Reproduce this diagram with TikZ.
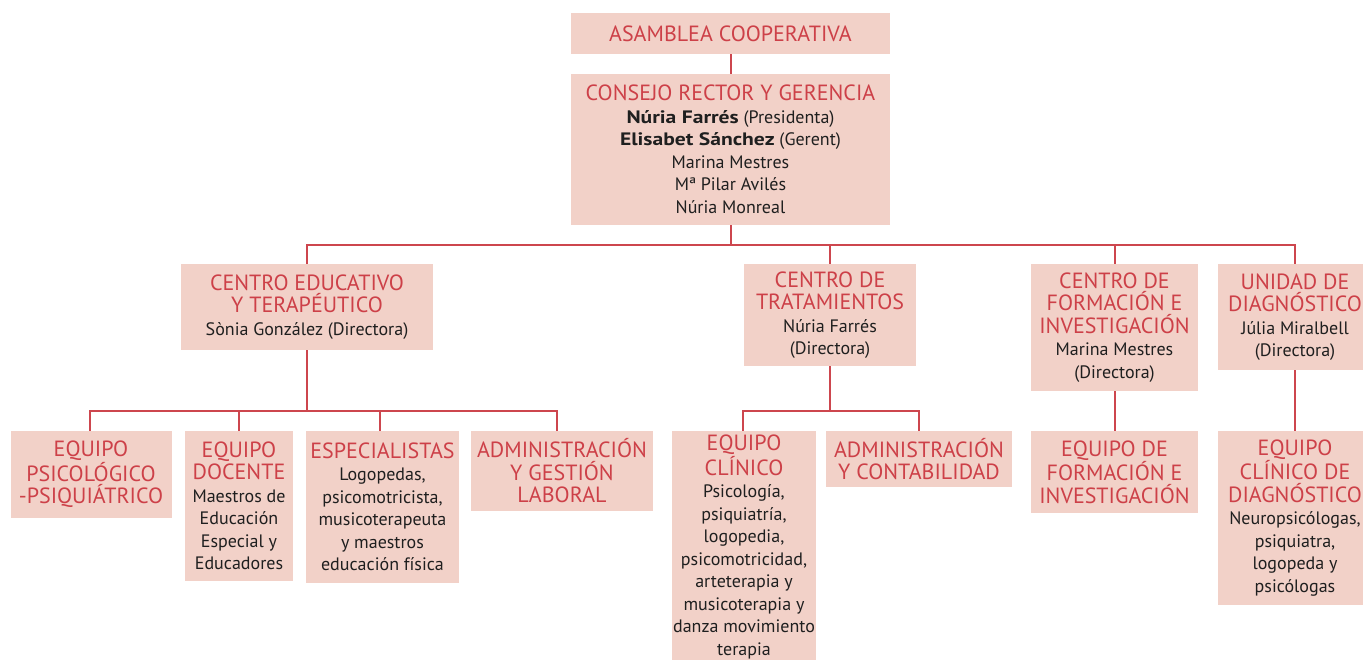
\documentclass[tikz,border=0pt]{standalone}
\usepackage{fontspec}
\setmainfont{PT Sans}[BoldFeatures={FakeStretch=1.2}]
\definecolor{boxfill}{RGB}{242,209,200}
\definecolor{linered}{RGB}{205,70,78}
\definecolor{titred}{RGB}{205,64,72}
\newcommand{\ttl}[1]{{\color{titred}\fontsize{22}{22.5}\selectfont #1}}
\tikzset{
  box/.style={fill=boxfill, inner sep=0pt, align=center, text=black!88,
    font=\fontsize{18}{22.5}\selectfont},
  con/.style={draw=linered, line width=2pt}
}
\begin{document}
\begin{tikzpicture}[x=1pt,y=-1pt]
\useasboundingbox (0,0) rectangle (1363,659);
% top
\node[box, minimum width=319, minimum height=41] (asam) at (730.5,33.5) {\ttl{ASAMBLEA COOPERATIVA}};
\node[box, minimum width=319, minimum height=151] (consejo) at (730.5,149.5) {\ttl{CONSEJO RECTOR Y GERENCIA}\\
\textbf{Núria Farrés} (Presidenta)\\ \textbf{Elisabet Sánchez} (Gerent)\\ Marina Mestres\\ Mª Pilar Avilés\\ Núria Monreal};
% level 2
\node[box, minimum width=252, minimum height=86] (edu) at (307,307) {\ttl{CENTRO EDUCATIVO}\\ \ttl{Y TERAPÉUTICO}\\ Sònia González (Directora)};
\node[box, minimum width=172, minimum height=102] (trat) at (830,315) {\ttl{CENTRO DE}\\ \ttl{TRATAMIENTOS}\\ Núria Farrés\\ (Directora)};
\node[box, minimum width=167, minimum height=127] (form) at (1114.5,327.5) {\ttl{CENTRO DE}\\ \ttl{FORMACIÓN E}\\ \ttl{INVESTIGACIÓN}\\ Marina Mestres\\ (Directora)};
\node[box, minimum width=154, minimum height=106] (unid) at (1295,317) {\ttl{UNIDAD DE}\\ \ttl{DIAGNÓSTICO}\\ Júlia Miralbell\\ (Directora)};
% level 3
\node[box, minimum width=161, minimum height=87] (ep) at (91,474.5) {\ttl{EQUIPO}\\ \ttl{PSICOLÓGICO}\\ \ttl{-PSIQUIÁTRICO}};
\node[box, minimum width=108, minimum height=150] (doc) at (239,506) {\ttl{EQUIPO}\\ \ttl{DOCENTE}\\ Maestros de\\ Educación\\ Especial y\\ Educadores};
\node[box, minimum width=153, minimum height=152] (esp) at (382.5,507) {\ttl{ESPECIALISTAS}\\ Logopedas,\\ psicomotricista,\\ musicoterapeuta\\ y maestros\\ educación física};
\node[box, minimum width=182, minimum height=80] (adm) at (562,471) {\ttl{ADMINISTRACIÓN}\\ \ttl{Y GESTIÓN}\\ \ttl{LABORAL}};
\node[box, minimum width=144, minimum height=232] (ecl) at (744,547) {\ttl{EQUIPO}\\ \ttl{CLÍNICO}\\ Psicología,\\ psiquiatría,\\ logopedia,\\ psicomotricidad,\\ arteterapia y\\ musicoterapia y\\ danza movimiento\\ terapia};
\node[box, minimum width=186, minimum height=56] (acont) at (919,459) {\ttl{ADMINISTRACIÓN}\\ \ttl{Y CONTABILIDAD}};
\node[box, minimum width=167, minimum height=82] (efor) at (1114.5,472) {\ttl{EQUIPO DE}\\ \ttl{FORMACIÓN E}\\ \ttl{INVESTIGACIÓN}};
\node[box, minimum width=154, minimum height=174] (ecd) at (1295,518) {\ttl{EQUIPO}\\ \ttl{CLÍNICO DE}\\ \ttl{DIAGNÓSTICO}\\ Neuropsicólogas,\\ psiquiatra,\\ logopeda y\\ psicólogas};
% connectors
\coordinate (b1) at (730.5,245);
\coordinate (b2) at (307,411);
\coordinate (b3) at (830,411);
\draw[con] (asam.south) -- (consejo.north);
\draw[con] (consejo.south) -- (b1);
\draw[con] (b1) -| (edu.north);
\draw[con] (b1) -| (trat.north);
\draw[con] (b1) -| (form.north);
\draw[con] (b1) -| (unid.north);
\draw[con] (edu.south) -- (b2);
\draw[con] (b2) -| ([xshift=-1pt]ep.north);
\draw[con] (b2) -| (doc.north);
\draw[con] (b2) -| ([xshift=-2.5pt]esp.north);
\draw[con] (b2) -| ([xshift=-5pt]adm.north);
\draw[con] (trat.south) -- (b3);
\draw[con] (b3) -| ([xshift=-1pt]ecl.north);
\draw[con] (b3) -| (acont.north);
\draw[con] (form.south) -- (efor.north);
\draw[con] (unid.south) -- (ecd.north);
\end{tikzpicture}
\end{document}
